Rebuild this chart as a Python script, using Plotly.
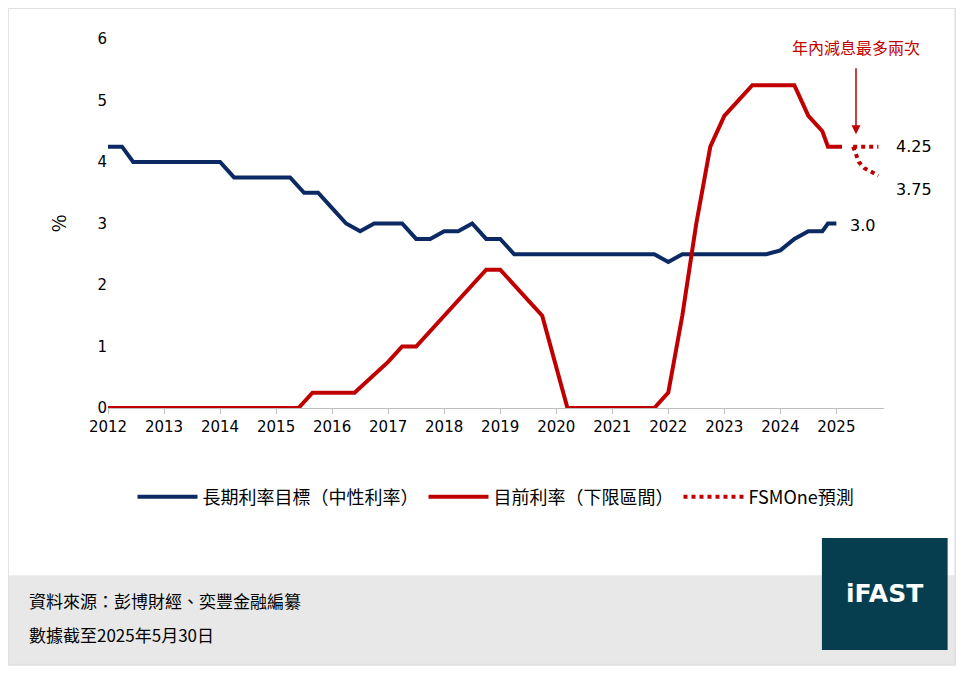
import plotly.graph_objects as go

# 長期利率目標（中性利率）
blue_x = [2012, 2012.25, 2012.45, 2014.0, 2014.25, 2015.25, 2015.5, 2015.75, 2016.0, 2016.25,
          2016.5, 2016.75, 2017.25, 2017.5, 2017.75, 2018.0, 2018.25, 2018.5, 2018.75, 2019.0,
          2019.25, 2021.75, 2022.0, 2022.25, 2023.75, 2024.0, 2024.25, 2024.5, 2024.75, 2024.85, 2025.0]
blue_y = [4.25, 4.25, 4.0, 4.0, 3.75, 3.75, 3.5, 3.5, 3.25, 3.0,
          2.875, 3.0, 3.0, 2.75, 2.75, 2.875, 2.875, 3.0, 2.75, 2.75,
          2.5, 2.5, 2.375, 2.5, 2.5, 2.5625, 2.75, 2.875, 2.875, 3.0, 3.0]

# 目前利率（下限區間）
red_x = [2012, 2015.4, 2015.65, 2016.4, 2017.0, 2017.25, 2017.5, 2018.0, 2018.5, 2018.75,
         2019.0, 2019.25, 2019.75, 2020.2, 2021.75, 2022.0, 2022.25, 2022.5, 2022.75, 2023.0,
         2023.25, 2023.5, 2024.25, 2024.5, 2024.75, 2024.85, 2025.1]
red_y = [0, 0, 0.25, 0.25, 0.75, 1.0, 1.0, 1.5, 2.0, 2.25,
         2.25, 2.0, 1.5, 0, 0, 0.25, 1.5, 3.0, 4.25, 4.75,
         5.0, 5.25, 5.25, 4.75, 4.5, 4.25, 4.25]

# FSMOne預測
fc_hi_x = [2025.3, 2025.75]
fc_hi_y = [4.25, 4.25]
fc_lo_x = [2025.3, 2025.4, 2025.5, 2025.75]
fc_lo_y = [4.25, 4.0, 3.9, 3.78]

BLUE = "#0b2a63"
RED = "#c00000"
FONT = "Noto Sans CJK TC"

fig = go.Figure()
fig.add_trace(go.Scatter(x=blue_x, y=blue_y, mode="lines", name="長期利率目標（中性利率）",
                         line=dict(color=BLUE, width=4)))
fig.add_trace(go.Scatter(x=red_x, y=red_y, mode="lines", name="目前利率（下限區間）",
                         line=dict(color=RED, width=4)))
fig.add_trace(go.Scatter(x=fc_hi_x, y=fc_hi_y, mode="lines", name="FSMOne預測",
                         line=dict(color=RED, width=4, dash="dot")))
fig.add_trace(go.Scatter(x=fc_lo_x, y=fc_lo_y, mode="lines", showlegend=False,
                         line=dict(color=RED, width=4, dash="dot")))

fig.add_annotation(xref="paper", x=1.013, y=4.25, text="4.25", showarrow=False, xanchor="left",
                   font=dict(size=16, color="black", family="DejaVu Sans"))
fig.add_annotation(xref="paper", x=1.013, y=3.55, text="3.75", showarrow=False, xanchor="left",
                   font=dict(size=16, color="black", family="DejaVu Sans"))
fig.add_annotation(x=2025.2, y=2.96, text="3.0", showarrow=False, xanchor="left",
                   font=dict(size=16, color="black", family="DejaVu Sans"))
fig.add_annotation(x=2025.35, y=4.45, ax=2025.35, ay=5.55, axref="x", ayref="y",
                   text="", showarrow=True, arrowhead=2, arrowsize=1.2, arrowwidth=1.5, arrowcolor=RED)
fig.add_annotation(x=2025.35, y=5.65, text="年內減息最多兩次", showarrow=False, yanchor="bottom",
                   xanchor="center", font=dict(size=16, color=RED, family=FONT))

# footer
fig.add_shape(type="rect", xref="paper", yref="paper", x0=-0.129, x1=1.095, y0=-0.696, y1=-0.453,
              fillcolor="#e8e8e8", line_width=0, layer="below")
fig.add_shape(type="rect", xref="paper", yref="paper", x0=0.920, x1=1.082, y0=-0.656, y1=-0.352,
              fillcolor="#073e4f", line_width=0)
fig.add_annotation(xref="paper", yref="paper", x=1.001, y=-0.504, xanchor="center", yanchor="middle",
                   text="<b>iFAST</b>", showarrow=False,
                   font=dict(size=25, color="white", family="DejaVu Sans"))
fig.add_annotation(xref="paper", yref="paper", x=-0.105, y=-0.523, xanchor="left", yanchor="middle",
                   text="資料來源：彭博財經、奕豐金融編纂", showarrow=False,
                   font=dict(size=17, color="black", family=FONT))
fig.add_annotation(xref="paper", yref="paper", x=-0.105, y=-0.615, xanchor="left", yanchor="middle",
                   text="數據截至2025年5月30日", showarrow=False,
                   font=dict(size=17, color="black", family=FONT))

fig.update_layout(
    width=964, height=673,
    margin=dict(l=100, r=88, t=31, b=273),
    paper_bgcolor="white", plot_bgcolor="white",
    font=dict(family=FONT, size=16, color="black"),
    legend=dict(orientation="h", x=0.5, xanchor="center", y=-0.241, yanchor="middle",
                font=dict(size=18), itemwidth=60),
    xaxis=dict(range=[2012, 2025.85], tickmode="array", tickvals=list(range(2012, 2026)),
               showgrid=False, showline=True, linecolor="#bfbfbf", ticks="outside",
               tickcolor="#bfbfbf", ticklen=5, zeroline=False, tickfont=dict(family="DejaVu Sans", size=15)),
    yaxis=dict(range=[0, 6], dtick=1, showgrid=False, zeroline=False, title=dict(text="%", standoff=25),
               tickfont=dict(family="DejaVu Sans", size=15)),
)
fig.add_shape(type="rect", xref="paper", yref="paper", x0=-0.129, x1=1.092, y0=-0.696, y1=1.084,
              line=dict(color="#e0e0e0", width=2), layer="below")

fig.write_html("out.html")
